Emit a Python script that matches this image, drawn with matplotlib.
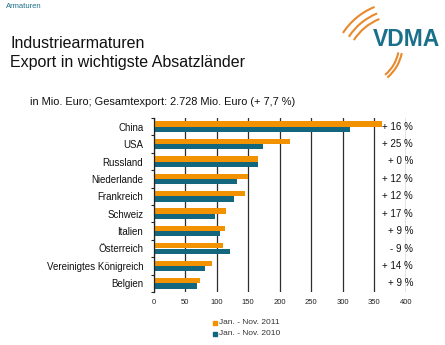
import matplotlib
matplotlib.use("Agg")
import matplotlib.pyplot as plt
import matplotlib.transforms as mtransforms
from matplotlib.patches import Arc, Rectangle
import numpy as np

plt.rcParams['font.family'] = ['Liberation Sans', 'DejaVu Sans']

# Export data (Mio. Euro)
countries = ["China", "USA", "Russland", "Niederlande", "Frankreich", "Schweiz",
             "Italien", "Österreich", "Vereinigtes Königreich", "Belgien"]
exports_2011 = [362, 216, 165, 149, 145, 115, 113, 110, 92, 73]
exports_2010 = [312, 174, 165, 132, 128, 98, 105, 121, 81, 68]
changes = ["+ 16 %", "+ 25 %", "+ 0 %", "+ 12 %", "+ 12 %", "+ 17 %",
           "+ 9 %", "- 9 %", "+ 14 %", "+ 9 %"]
series_labels = ["Jan. - Nov. 2011", "Jan. - Nov. 2010"]
x_ticks = [0, 50, 100, 150, 200, 250, 300, 350, 400]

ORANGE = "#F39200"
TEAL = "#12677F"
W, H = 445, 345

fig = plt.figure(figsize=(W / 100, H / 100), dpi=100)
fig.patch.set_facecolor("white")

ax = fig.add_axes([153.7 / W, 1 - 292 / H, 252 / W, 174 / H])
y = np.arange(len(countries))
bh = 0.3
ax.barh(y - bh / 2, exports_2011, height=bh, color=ORANGE, zorder=3)
ax.barh(y + bh / 2, exports_2010, height=bh, color=TEAL, zorder=3)

ax.set_xlim(0, 400)
ax.set_ylim(len(countries) - 0.5, -0.5)
ax.set_xticks(x_ticks)
ax.set_xticklabels([str(t) for t in x_ticks], fontsize=5.5, color="#222222")
ax.tick_params(axis="x", length=0, pad=5)
ax.set_yticks(y)
ax.set_yticklabels(countries, fontsize=7, color="#111111")
ax.tick_params(axis="y", which="major", length=0, pad=7.5)
ax.set_yticks(np.arange(-0.5, len(countries), 1.0), minor=True)
ax.tick_params(axis="y", which="minor", length=2.5, width=0.8, color="#222222")
ax.grid(axis="x", color="#2e2e2e", linewidth=0.9, zorder=0)
ax.set_axisbelow(True)
for side in ["top", "right", "bottom"]:
    ax.spines[side].set_visible(False)
ax.spines["left"].set_color("#222222")
ax.spines["left"].set_linewidth(0.9)
ax.spines["left"].set_zorder(4)

# Percentage change column
trans = mtransforms.blended_transform_factory(fig.transFigure, ax.transData)
for yi, txt in zip(y, changes):
    ax.text(413 / W, yi, txt, transform=trans, ha="right", va="center",
            fontsize=7, color="#111111", zorder=5)

# Legend
for i, (lab, col) in enumerate(zip(series_labels, [ORANGE, TEAL])):
    ypx = 322.7 + i * 10.8
    fig.patches.append(Rectangle((213 / W, 1 - (ypx + 2) / H), 4 / W, 4 / H,
                                 transform=fig.transFigure, color=col, figure=fig))
    fig.text(219 / W, 1 - ypx / H, lab, fontsize=6, color="#333333",
             ha="left", va="center")

# Headings
fig.text(6 / W, 1 - 7 / H, "Armaturen", fontsize=5.5, color="#1a6f8a",
         ha="left", va="center")
fig.text(10 / W, 1 - 43 / H, "Industriearmaturen", fontsize=11.5, color="#111111",
         ha="left", va="center")
fig.text(10 / W, 1 - 62 / H, "Export in wichtigste Absatzländer", fontsize=11.5,
         color="#111111", ha="left", va="center")
fig.text(30 / W, 1 - 102 / H, "in Mio. Euro; Gesamtexport: 2.728 Mio. Euro (+ 7,7 %)",
         fontsize=7.9, color="#111111", ha="left", va="center")

# VDMA logo
lax = fig.add_axes([0, 0, 1, 1], zorder=10)
lax.set_xlim(0, W)
lax.set_ylim(0, H)
lax.axis("off")
lax.patch.set_alpha(0)
for r in (68, 61, 55):
    lax.add_patch(Arc((400, H - 70), 2 * r, 2 * r, theta1=112, theta2=147,
                      color="#E8892B", linewidth=1.5))
for r in (42.5, 39):
    lax.add_patch(Arc((360, H - 45), 2 * r, 2 * r, theta1=-50, theta2=-11,
                      color="#E8892B", linewidth=1.5))
lax.text(406, H - 39, "VDMA", fontsize=16.5, fontweight="bold", color="#1a6f8a",
         ha="center", va="center")

fig.savefig("out.png", dpi=100, facecolor="white")
